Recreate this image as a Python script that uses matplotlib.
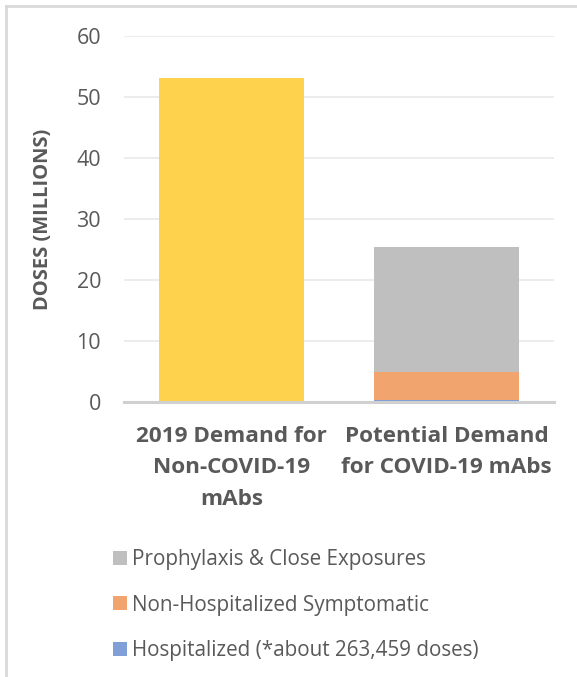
import matplotlib
matplotlib.use("Agg")
import matplotlib.pyplot as plt
from matplotlib.patches import Patch
from matplotlib.lines import Line2D

categories = ["2019 Demand for\nNon-COVID-19\nmAbs", "Potential Demand\nfor COVID-19 mAbs"]
demand_2019 = [53.1, 0.0]
hospitalized = [0.0, 0.26]
non_hosp_symptomatic = [0.0, 4.66]
prophylaxis = [0.0, 20.5]
yticks = [0, 10, 20, 30, 40, 50, 60]

c_yellow = "#FED24D"
c_gray = "#BFBFBF"
c_orange = "#F1A46E"
c_blue = "#7F9FD6"
txt = "#595959"

plt.rcParams['font.family'] = ['Open Sans', 'DejaVu Sans']

fig = plt.figure(figsize=(5.77, 6.77), dpi=100)
ax = fig.add_axes([124/577, 1-402/677, (554-124)/577, (402-36)/677])

x = [0, 1]
w = 0.67
ax.bar(x, demand_2019, width=w, color=c_yellow, zorder=2)
ax.bar(x, hospitalized, width=w, color=c_blue, zorder=2)
b1 = [h for h in hospitalized]
ax.bar(x, non_hosp_symptomatic, width=w, bottom=b1, color=c_orange, zorder=2)
b2 = [a + b for a, b in zip(b1, non_hosp_symptomatic)]
ax.bar(x, prophylaxis, width=w, bottom=b2, color=c_gray, zorder=2)

ax.set_xlim(-0.5, 1.5)
ax.set_ylim(0, 60)
ax.set_yticks(yticks)
ax.yaxis.grid(True, color="#EBEBEB", linewidth=1.3, zorder=0)
ax.set_axisbelow(True)
for s in ["top", "right", "left"]:
    ax.spines[s].set_visible(False)
ax.spines["bottom"].set_color("#D0D0D0")
ax.spines["bottom"].set_linewidth(2.2)
ax.spines["bottom"].set_zorder(3)
ax.tick_params(axis="both", length=0)
ax.tick_params(axis="y", labelsize=15.5, labelcolor=txt, pad=16.5)
ax.set_xticks(x)
ax.set_xticklabels(categories, fontsize=16.2, fontweight="bold", color=txt,
                   linespacing=1.66)
ax.tick_params(axis="x", pad=17)
ax.set_ylabel("DOSES (MILLIONS)", fontsize=14.5, fontweight="bold", color=txt)
ax.yaxis.set_label_coords(-0.164, 0.5)

handles = [Patch(facecolor=c_gray, edgecolor="none"),
           Patch(facecolor=c_orange, edgecolor="none"),
           Patch(facecolor=c_blue, edgecolor="none")]
labels = ["Prophylaxis & Close Exposures",
          "Non-Hospitalized Symptomatic",
          "Hospitalized (*about 263,459 doses)"]
leg = fig.legend(handles, labels, loc="upper left", bbox_to_anchor=(113/577, 1-549/677),
                 frameon=False, fontsize=14.9, labelcolor=txt, handlelength=0.68,
                 handleheight=0.68, handletextpad=0.25, labelspacing=1.19,
                 borderaxespad=0, borderpad=0)

# outer frame (top and left edges visible)
fig.add_artist(Line2D([6/577, 1], [1-6/677, 1-6/677], color="#D9D9D9", linewidth=2,
                      transform=fig.transFigure))
fig.add_artist(Line2D([6/577, 6/577], [0, 1-6/677], color="#D9D9D9", linewidth=2,
                      transform=fig.transFigure))

fig.savefig("out.png", dpi=100, facecolor="white")
